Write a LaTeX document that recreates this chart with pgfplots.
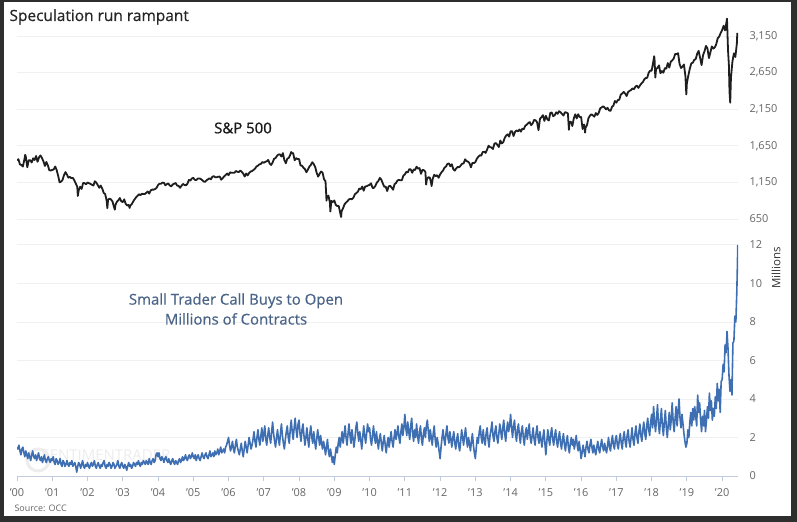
\documentclass[border=0pt]{standalone}
\usepackage{fontspec}
\setmainfont{Open Sans}
\newfontfamily\semititle[FakeBold=0.6]{Open Sans}
\newfontfamily\semilabel[FakeBold=0.9]{Open Sans}
\usepackage{pgfplots}
\usepackage{pgfplotstable}
\pgfplotsset{compat=1.18}

\definecolor{spxcol}{HTML}{1E1E1E}
\definecolor{callcol}{HTML}{3F6FB3}
\definecolor{axcol}{HTML}{C0CCDD}
\definecolor{tickcol}{HTML}{666666}
\definecolor{lblcol}{HTML}{4A6488}
\definecolor{framecol}{HTML}{2E2E2E}
\definecolor{gridcol}{HTML}{F0F0F0}

% S&P 500, half-month steps: year, half-month index (1..24), close
\pgfplotstableread{
y h v
2000 0 1455
2000 1 1465
2000 2 1394
2000 3 1388
2000 4 1366
2000 5 1460
2000 5.6 1527
2000 6 1499
2000 7 1356
2000 8 1452
2000 9 1452
2000 10 1421
2000 11 1478
2000 12 1455
2000 13 1510
2000 14 1431
2000 15 1492
2000 16 1518
2000 17 1482
2000 18 1437
2000 19 1374
2000 20 1429
2000 21 1382
2000 22 1315
2000 23 1312
2000 24 1320
2001 1 1326
2001 2 1366
2001 3 1318
2001 4 1240
2001 5 1150
2001 6 1160
2001 7 1183
2001 8 1249
2001 9 1290
2001 10 1256
2001 11 1214
2001 12 1224
2001 13 1208
2001 14 1211
2001 15 1178
2001 16 1134
2001 17 1092
2001 17.4 965
2001 18 1041
2001 19 1090
2001 20 1060
2001 21 1140
2001 22 1139
2001 23 1123
2001 24 1148
2002 1 1138
2002 2 1130
2002 3 1116
2002 4 1107
2002 5 1165
2002 6 1147
2002 7 1111
2002 8 1076
2002 9 1106
2002 10 1067
2002 11 1007
2002 12 990
2002 13 905
2002 13.5 797
2002 14 912
2002 15 928
2002 16 916
2002 17 889
2002 18 815
2002 18.6 777
2002 19 841
2002 20 886
2002 21 904
2002 22 936
2002 23 890
2002 24 880
2003 1 918
2003 2 856
2003 3 834
2003 4 841
2003 4.7 800
2003 5 833
2003 6 848
2003 7 885
2003 8 917
2003 9 944
2003 10 964
2003 11 988
2003 12 975
2003 13 994
2003 14 990
2003 15 990
2003 16 1008
2003 17 1025
2003 18 996
2003 19 1040
2003 20 1051
2003 21 1050
2003 22 1058
2003 23 1075
2003 24 1112
2004 1 1132
2004 2 1131
2004 3 1146
2004 4 1145
2004 5 1110
2004 6 1126
2004 7 1135
2004 8 1107
2004 9 1095
2004 10 1121
2004 11 1132
2004 12 1141
2004 13 1106
2004 14 1102
2004 15 1075
2004 16 1104
2004 17 1128
2004 18 1115
2004 19 1109
2004 20 1130
2004 21 1183
2004 22 1174
2004 23 1203
2004 24 1212
2005 1 1185
2005 2 1181
2005 3 1201
2005 4 1204
2005 5 1197
2005 6 1181
2005 7 1162
2005 8 1157
2005 9 1178
2005 10 1192
2005 11 1206
2005 12 1191
2005 13 1227
2005 14 1234
2005 15 1219
2005 16 1220
2005 17 1227
2005 18 1229
2005 19 1186
2005 20 1207
2005 21 1232
2005 22 1249
2005 23 1270
2005 24 1248
2006 1 1287
2006 2 1280
2006 3 1280
2006 4 1281
2006 5 1305
2006 6 1295
2006 7 1290
2006 8 1311
2006 9 1292
2006 10 1270
2006 11 1230
2006 12 1270
2006 13 1245
2006 14 1277
2006 15 1298
2006 16 1304
2006 17 1320
2006 18 1336
2006 19 1366
2006 20 1378
2006 21 1396
2006 22 1401
2006 23 1427
2006 24 1418
2007 1 1430
2007 2 1438
2007 3 1456
2007 4 1407
2007 5 1387
2007 6 1421
2007 7 1472
2007 8 1482
2007 9 1512
2007 10 1531
2007 11 1532
2007 12 1503
2007 13 1549
2007 14 1455
2007 15 1411
2007 16 1474
2007 17 1484
2007 18 1527
2007 18.6 1565
2007 19 1548
2007 20 1549
2007 21 1451
2007 22 1481
2007 23 1468
2007 24 1468
2008 1 1380
2008 2 1378
2008 3 1349
2008 4 1331
2008 5 1288
2008 6 1323
2008 7 1365
2008 8 1386
2008 9 1425
2008 10 1400
2008 11 1360
2008 12 1280
2008 13 1228
2008 14 1267
2008 15 1298
2008 16 1283
2008 17 1192
2008 18 1166
2008 18.7 899
2008 19 946
2008 20 969
2008 21 873
2008 21.3 752
2008 22 896
2008 23 880
2008 24 903
2009 1 843
2009 2 826
2009 3 827
2009 4 735
2009 4.6 677
2009 5 756
2009 6 798
2009 7 852
2009 8 873
2009 9 893
2009 10 919
2009 11 923
2009 12 919
2009 13 940
2009 14 987
2009 15 1004
2009 16 1021
2009 17 1065
2009 18 1057
2009 19 1093
2009 20 1036
2009 21 1094
2009 22 1096
2009 23 1108
2009 24 1115
2010 1 1137
2010 2 1074
2010 3 1075
2010 4 1104
2010 5 1150
2010 6 1169
2010 7 1211
2010 8 1187
2010 9 1136
2010 10 1089
2010 11 1092
2010 12 1031
2010 13 1096
2010 14 1102
2010 15 1080
2010 16 1049
2010 17 1125
2010 18 1141
2010 19 1176
2010 20 1183
2010 21 1178
2010 22 1181
2010 23 1242
2010 24 1258
2011 1 1293
2011 2 1286
2011 3 1330
2011 4 1327
2011 5 1281
2011 6 1326
2011 7 1319
2011 8 1364
2011 9 1337
2011 10 1345
2011 11 1266
2011 12 1321
2011 13 1316
2011 14 1292
2011 14.5 1119
2011 15 1193
2011 16 1219
2011 17 1216
2011 18 1131
2011 18.2 1099
2011 19 1200
2011 20 1253
2011 21 1236
2011 22 1247
2011 23 1212
2011 24 1258
2012 1 1289
2012 2 1312
2012 3 1350
2012 4 1366
2012 5 1402
2012 6 1408
2012 7 1370
2012 8 1398
2012 9 1330
2012 10 1310
2012 11 1342
2012 12 1362
2012 13 1356
2012 14 1379
2012 15 1405
2012 16 1407
2012 17 1465
2012 18 1441
2012 19 1433
2012 20 1412
2012 21 1355
2012 22 1416
2012 23 1413
2012 24 1426
2013 1 1472
2013 2 1498
2013 3 1520
2013 4 1515
2013 5 1563
2013 6 1569
2013 7 1552
2013 8 1598
2013 9 1650
2013 10 1631
2013 11 1626
2013 12 1606
2013 13 1680
2013 14 1686
2013 15 1661
2013 16 1633
2013 17 1722
2013 18 1682
2013 19 1698
2013 20 1757
2013 21 1790
2013 22 1806
2013 23 1775
2013 24 1848
2014 1 1848
2014 2 1783
2014 3 1838
2014 4 1859
2014 5 1846
2014 6 1872
2014 7 1842
2014 8 1884
2014 9 1877
2014 10 1924
2014 11 1937
2014 12 1960
2014 13 1973
2014 14 1931
2014 15 1955
2014 16 2003
2014 17 1998
2014 18 1972
2014 19 1862
2014 20 2018
2014 21 2040
2014 22 2068
2014 23 1989
2014 24 2059
2015 1 2011
2015 2 1995
2015 3 2097
2015 4 2105
2015 5 2053
2015 6 2068
2015 7 2106
2015 8 2086
2015 9 2122
2015 10 2107
2015 11 2085
2015 12 2063
2015 13 2108
2015 14 2104
2015 15 2092
2015 15.7 1868
2015 16 1972
2015 17 1978
2015 18 1920
2015 19 2023
2015 20 2079
2015 21 2023
2015 22 2080
2015 23 2043
2015 24 2044
2016 1 1880
2016 2 1940
2016 2.7 1829
2016 3 1895
2016 4 1932
2016 5 2027
2016 6 2060
2016 7 2080
2016 8 2065
2016 9 2047
2016 10 2097
2016 11 2071
2016 12 2099
2016 13 2162
2016 14 2174
2016 15 2190
2016 16 2171
2016 17 2147
2016 18 2168
2016 19 2133
2016 20 2126
2016 21 2180
2016 22 2199
2016 23 2262
2016 24 2239
2017 1 2274
2017 2 2279
2017 3 2349
2017 4 2364
2017 5 2385
2017 6 2363
2017 7 2329
2017 8 2384
2017 9 2400
2017 10 2412
2017 11 2433
2017 12 2423
2017 13 2459
2017 14 2470
2017 15 2440
2017 16 2472
2017 17 2500
2017 18 2519
2017 19 2557
2017 20 2575
2017 21 2579
2017 22 2648
2017 23 2676
2017 24 2674
2018 1 2786
2018 1.73 2873
2018 2 2824
2018 2.5 2581
2018 3 2698
2018 4 2714
2018 5 2748
2018 6 2641
2018 7 2670
2018 8 2648
2018 9 2711
2018 10 2705
2018 11 2779
2018 12 2718
2018 13 2798
2018 14 2816
2018 15 2840
2018 16 2902
2018 17 2904
2018 18 2914
2018 19 2768
2018 20 2712
2018 21 2730
2018 22 2760
2018 23 2600
2018 23.6 2351
2018 24 2507
2019 1 2610
2019 2 2704
2019 3 2775
2019 4 2784
2019 5 2822
2019 6 2834
2019 7 2907
2019 8 2946
2019 9 2850
2019 10 2752
2019 11 2886
2019 12 2942
2019 13 3014
2019 14 2980
2019 15 2847
2019 16 2926
2019 17 3007
2019 18 2977
2019 19 2995
2019 20 3038
2019 21 3120
2019 22 3141
2019 23 3191
2019 24 3231
2020 1 3289
2020 2 3226
2020 3.3 3386
2020 4 2954
2020 4.6 2747
2020 5 2386
2020 5.5 2237
2020 6 2585
2020 7 2800
2020 8 2912
2020 9 2864
2020 10 3044
2020 10.33 3193
}\spxdata

% small trader call buys to open, millions, 36 readings a year from 2000
\pgfplotstableread[row sep=\\]{
v\\
1.5\\1.4\\1.6\\1.3\\1.1\\1.4\\1.5\\1.2\\1.0\\1.3\\1.1\\0.9\\
1.2\\1.0\\0.8\\1.1\\1.3\\1.0\\0.9\\1.1\\0.8\\1.0\\1.2\\0.9\\
0.8\\1.0\\0.7\\0.9\\1.1\\0.8\\0.7\\0.9\\1.0\\0.8\\0.7\\0.9\\
0.8\\1.0\\0.7\\0.6\\0.9\\0.8\\0.6\\0.7\\0.9\\0.6\\0.5\\0.8\\
0.7\\0.5\\0.6\\0.8\\0.6\\0.5\\0.7\\0.6\\0.8\\0.5\\0.6\\0.7\\
0.5\\0.2\\0.5\\0.7\\0.6\\0.4\\0.6\\0.8\\0.5\\0.4\\0.6\\0.5\\
0.7\\0.5\\0.4\\0.6\\0.7\\0.5\\0.6\\0.8\\0.5\\0.4\\0.6\\0.7\\
0.5\\0.4\\0.6\\0.5\\0.7\\0.8\\0.5\\0.4\\0.6\\0.5\\0.7\\0.6\\
0.4\\0.5\\0.7\\0.6\\0.4\\0.5\\0.6\\0.8\\0.5\\0.4\\0.6\\0.7\\
0.5\\0.4\\0.6\\0.5\\0.3\\0.5\\0.7\\0.5\\0.6\\0.4\\0.5\\0.7\\
0.6\\0.5\\0.7\\0.6\\0.8\\0.6\\0.5\\0.7\\0.6\\0.8\\0.7\\0.6\\
0.8\\0.7\\0.6\\0.9\\0.7\\0.6\\0.8\\0.9\\0.7\\0.8\\1.1\\1.2\\
1.0\\1.2\\0.9\\0.8\\1.0\\0.9\\0.7\\0.9\\1.0\\0.8\\0.7\\0.9\\
0.7\\0.6\\0.8\\0.9\\0.7\\0.6\\0.8\\0.7\\0.6\\0.8\\0.9\\0.7\\
0.8\\1.0\\0.8\\0.9\\1.1\\0.9\\0.8\\1.0\\1.1\\0.9\\1.0\\1.2\\
1.0\\0.9\\1.1\\0.8\\1.0\\1.1\\0.9\\0.8\\1.0\\1.2\\1.0\\0.9\\
1.1\\1.2\\1.0\\0.9\\1.1\\1.3\\1.0\\1.1\\1.2\\1.0\\1.3\\1.1\\
1.2\\1.4\\1.1\\1.3\\1.5\\1.2\\1.3\\1.4\\1.2\\1.5\\1.6\\1.8\\
2.0\\1.6\\1.3\\1.5\\1.8\\1.4\\1.2\\1.6\\1.9\\1.5\\1.3\\1.1\\
1.4\\1.7\\1.3\\1.0\\1.4\\1.8\\1.5\\1.2\\1.6\\2.0\\1.7\\1.4\\
1.6\\1.9\\2.3\\1.8\\1.5\\2.0\\2.4\\1.9\\1.6\\2.1\\2.5\\1.8\\
2.2\\2.6\\1.9\\1.6\\2.1\\2.5\\2.0\\1.7\\2.3\\2.8\\2.2\\1.8\\
1.5\\2.0\\2.4\\1.9\\1.6\\2.2\\2.7\\2.1\\1.7\\1.4\\1.9\\2.3\\
2.6\\2.0\\1.7\\2.4\\2.9\\2.3\\1.9\\2.5\\3.0\\2.4\\2.0\\2.7\\
2.9\\2.2\\1.8\\2.4\\2.7\\2.1\\1.6\\2.0\\2.5\\1.9\\1.5\\2.2\\
2.6\\2.0\\1.7\\2.3\\1.8\\1.4\\1.9\\2.4\\2.0\\1.6\\2.1\\1.7\\
1.4\\1.8\\1.5\\1.1\\1.5\\1.9\\1.3\\1.0\\1.4\\1.1\\0.7\\1.0\\
0.6\\1.1\\1.5\\1.2\\1.7\\2.0\\1.5\\1.9\\2.3\\1.7\\2.1\\2.6\\
2.0\\1.6\\2.2\\2.7\\2.1\\1.7\\2.4\\2.0\\1.5\\1.9\\2.5\\2.8\\
2.2\\1.8\\2.3\\1.9\\1.4\\2.0\\2.6\\2.1\\1.7\\2.2\\2.7\\2.3\\
2.5\\1.9\\1.6\\2.1\\2.6\\2.0\\1.7\\2.3\\1.8\\1.4\\1.9\\2.2\\
1.7\\1.3\\1.8\\2.1\\1.6\\1.2\\1.7\\2.0\\1.5\\1.9\\2.3\\1.8\\
1.5\\2.0\\2.4\\1.9\\2.2\\2.6\\2.0\\1.7\\2.3\\2.7\\2.1\\2.5\\
3.2\\2.5\\2.1\\2.8\\2.3\\1.9\\2.6\\3.0\\2.2\\1.8\\2.4\\2.0\\
2.7\\2.1\\1.7\\2.3\\2.6\\1.9\\1.6\\2.2\\2.5\\2.0\\2.6\\2.9\\
2.3\\1.8\\2.4\\2.0\\1.6\\2.2\\2.6\\1.9\\1.5\\2.0\\1.7\\1.3\\
0.9\\1.5\\2.0\\2.4\\1.9\\1.6\\2.2\\2.6\\2.0\\1.7\\2.3\\1.9\\
1.5\\2.0\\2.3\\1.7\\1.4\\1.9\\2.2\\1.6\\1.3\\1.8\\2.4\\2.0\\
1.6\\2.1\\2.5\\1.9\\1.5\\2.0\\1.7\\1.3\\1.8\\2.2\\1.6\\1.2\\
0.9\\1.5\\2.0\\1.7\\2.3\\2.6\\2.0\\1.7\\2.4\\1.9\\1.6\\2.2\\
2.5\\1.9\\1.5\\2.1\\2.4\\2.8\\2.1\\1.8\\2.3\\2.6\\2.0\\1.7\\
2.2\\2.7\\2.3\\1.9\\2.5\\2.9\\2.2\\1.8\\2.4\\2.8\\2.3\\2.6\\
3.2\\2.5\\2.0\\2.6\\2.9\\2.2\\1.8\\2.4\\2.7\\2.1\\1.7\\2.3\\
2.6\\2.0\\1.6\\2.2\\2.5\\1.9\\2.3\\2.7\\2.0\\1.7\\2.1\\2.5\\
1.9\\1.6\\2.2\\2.6\\2.0\\1.7\\2.3\\1.9\\1.5\\2.0\\2.4\\1.7\\
1.1\\1.8\\2.4\\1.9\\1.6\\2.2\\2.5\\1.9\\1.6\\2.1\\2.4\\1.8\\
1.5\\2.0\\2.3\\1.7\\1.4\\1.9\\2.2\\1.6\\1.3\\1.8\\2.1\\1.5\\
1.2\\1.7\\2.0\\1.6\\1.9\\1.4\\1.7\\2.1\\1.6\\1.3\\1.8\\1.4\\
0.9\\1.2\\1.6\\1.3\\1.0\\1.5\\1.8\\1.4\\1.2\\1.6\\1.9\\1.5\\
1.2\\1.6\\1.3\\1.1\\1.5\\1.8\\1.4\\1.2\\1.6\\1.9\\1.5\\1.3\\
1.7\\1.4\\1.2\\1.6\\2.0\\1.5\\1.3\\1.8\\2.1\\1.6\\1.4\\1.9\\
2.1\\1.6\\1.4\\1.9\\2.2\\1.7\\1.4\\2.0\\2.3\\1.8\\1.5\\2.1\\
2.4\\1.8\\1.5\\2.0\\2.5\\1.9\\1.6\\2.2\\2.6\\2.0\\1.7\\2.3\\
2.7\\2.1\\1.8\\2.4\\2.8\\2.2\\1.9\\2.6\\3.0\\2.4\\2.1\\2.8\\
3.2\\2.5\\3.6\\2.8\\2.3\\3.0\\3.7\\2.7\\2.2\\2.9\\3.5\\2.6\\
2.1\\2.8\\3.4\\2.5\\2.0\\2.7\\3.3\\2.4\\2.9\\3.8\\2.8\\2.3\\
3.0\\3.6\\2.6\\3.3\\4.0\\3.0\\2.5\\3.2\\2.7\\2.2\\1.8\\1.5\\
1.7\\2.4\\2.0\\2.8\\3.3\\2.6\\3.5\\2.9\\3.6\\3.1\\2.6\\4.2\\
3.3\\3.8\\2.9\\2.3\\3.1\\2.6\\3.4\\2.3\\2.9\\3.6\\3.0\\4.3\\
3.4\\3.9\\2.9\\3.5\\3.1\\4.1\\3.5\\4.8\\3.9\\4.5\\3.3\\4.9\\
5.0\\5.8\\5.4\\6.8\\6.4\\7.5\\6.6\\5.2\\4.4\\5.0\\4.2\\6.9\\
7.0\\8.3\\8.0\\9.6\\12.0\\
}\calldata

\pgfplotsset{
  panel/.style={
    scale only axis, width=721bp, anchor=south west,
    xmin=2000, xmax=2020.45,
    axis y line*=right,
    y axis line style={draw=none},
    ytick style={draw=none},
    ymajorgrids, grid style={gridcol, line width=0.6bp},
    yticklabel style={font=\fontsize{11}{13}\selectfont, text=tickcol, xshift=8bp},
    /pgf/number format/assume math mode=true,
    /pgf/number format/1000 sep={,},
    scaled y ticks=false,
  },
}

\begin{document}
\begin{tikzpicture}[x=1bp,y=1bp]
\fill[framecol] (0,0) rectangle (797,522);
\fill[white] (4,6) rectangle (791,520);

\node[anchor=base west, font=\semititle\fontsize{15.5}{19}\selectfont, text=black!85] at (6,501) {Speculation run rampant};
\node[font=\fontsize{15}{18}\selectfont, text=black!7] at (106,67) {SENTIMENTRADER};
\draw[black!7, line width=3bp] (38,62) circle (11);

% S&P 500
\begin{axis}[panel,
  at={(17bp,288.4bp)}, height=219.6bp,
  ymin=450, ymax=3450,
  ytick={650,1150,1650,2150,2650,3150},
  axis x line=none,
]
\addplot[spxcol, line width=1.8bp, line join=round] table[x expr=\thisrow{y}+\thisrow{h}/24, y=v]{\spxdata};
\end{axis}

% call buys
\begin{axis}[panel,
  at={(17bp,46bp)}, height=237bp,
  ymin=0, ymax=12.3,
  ytick={0,2,...,12},
  axis x line*=bottom,
  x axis line style={draw=axcol, line width=0.8bp, -},
  xtick={2000,2001,...,2020},
  xticklabels={'00,'01,'02,'03,'04,'05,'06,'07,'08,'09,'10,'11,'12,'13,'14,'15,'16,'17,'18,'19,'20},
  xtick style={draw=axcol, line width=0.8bp},
  xtick align=outside,
  major tick length=5bp,
  xticklabel style={font=\fontsize{11}{13}\selectfont, text=tickcol, yshift=-4bp},
]
\addplot[callcol, line width=1.6bp, line join=round] table[x expr=2000+\coordindex/36, y=v]{\calldata};
\end{axis}

\node[font=\semilabel\fontsize{15}{18}\selectfont, text=black!90] at (243,394) {S\&P 500};
\node[align=center, font=\semititle\fontsize{15}{20}\selectfont, text=lblcol] at (236,213) {Small Trader Call Buys to Open\\Millions of Contracts};
\node[rotate=90, font=\fontsize{11.5}{13}\selectfont, text=black!80] at (776,254) {Millions};
\node[anchor=west, font=\fontsize{9}{11}\selectfont, text=tickcol] at (11,14) {Source: OCC};
\end{tikzpicture}
\end{document}
